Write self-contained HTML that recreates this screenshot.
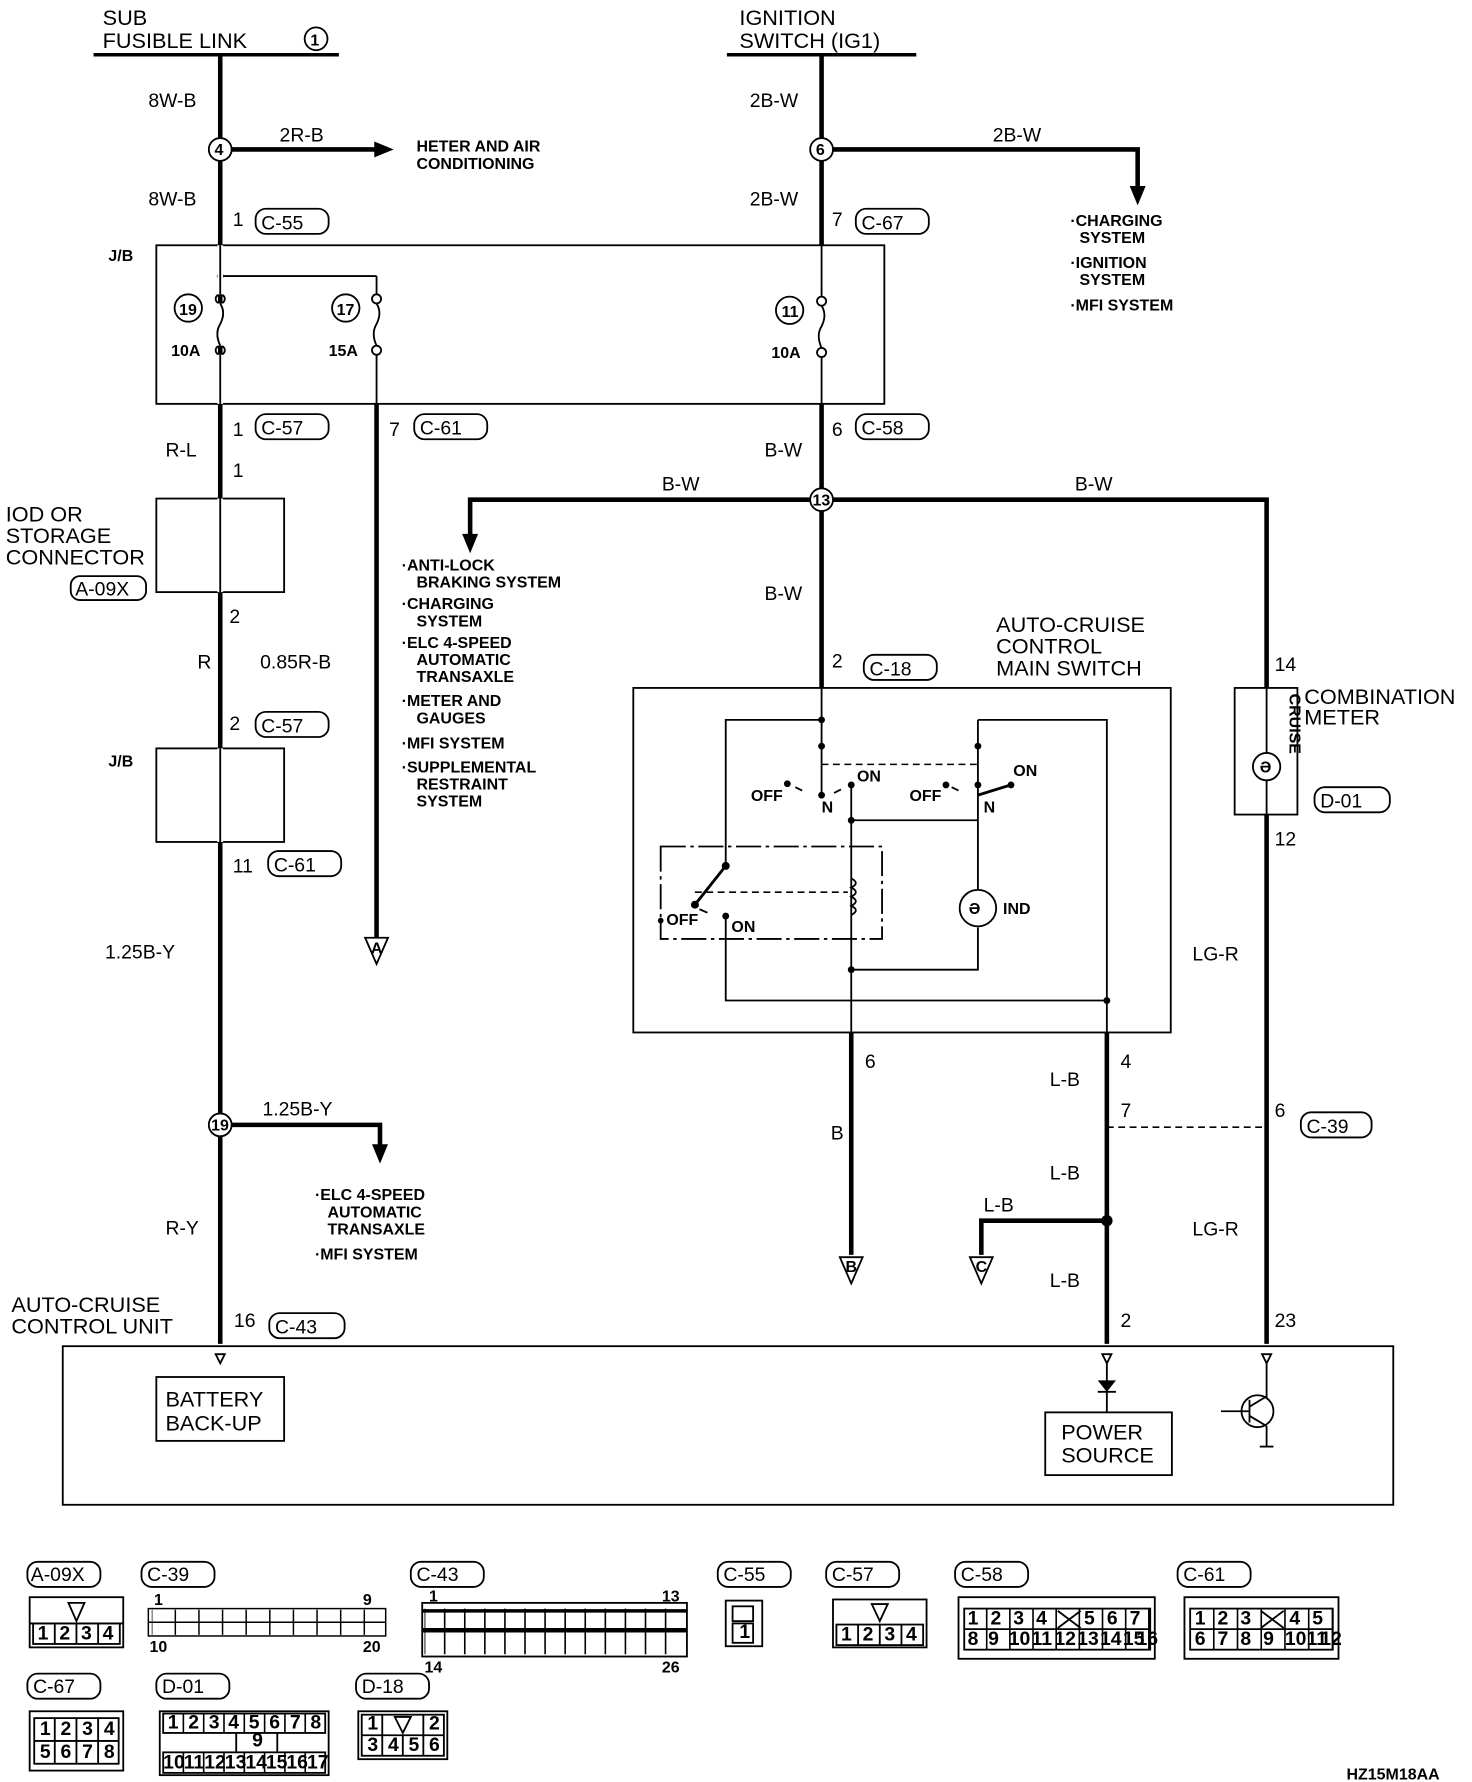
<!DOCTYPE html>
<html><head><meta charset="utf-8">
<style>
html,body{margin:0;padding:0;background:#fff;}
svg{display:block;}
text{font-family:"Liberation Sans Narrow","Liberation Sans",sans-serif;font-size:17px;fill:#000;}
.s{font-size:14px;font-weight:bold;}
.m{font-size:19px;}
.w{stroke:#000;stroke-width:4;fill:none;}
.l{stroke:#000;stroke-width:1.6;fill:none;}
.d{stroke:#000;stroke-width:1.4;fill:none;stroke-dasharray:6 4;}
.b{stroke:#000;stroke-width:1.6;fill:#fff;}
.c{font-size:11px;font-weight:bold;}
</style></head><body>
<svg width="1472" height="1782" viewBox="0 0 1290 1562" preserveAspectRatio="none" xmlns="http://www.w3.org/2000/svg">
<!-- top left -->
<text x="90" y="22" class="m">SUB</text>
<text x="90" y="42" class="m">FUSIBLE LINK</text>
<circle cx="277" cy="34" r="10" class="l"/><text x="272" y="40" class="s">1</text>
<line x1="82" y1="48" x2="297" y2="48" stroke="#000" stroke-width="3"/>
<line x1="193" y1="48" x2="193" y2="1178" class="w"/>
<text x="130" y="94">8W-B</text>
<circle cx="193" cy="131" r="10" class="b"/><text x="188" y="136" class="s">4</text>
<line x1="203" y1="131" x2="330" y2="131" class="w"/><polygon points="328,124 345,131 328,138"/>
<text x="245" y="124">2R-B</text>
<text x="365" y="133" class="s">HETER AND AIR</text><text x="365" y="148" class="s">CONDITIONING</text>
<text x="130" y="180">8W-B</text>
<text x="204" y="198">1</text><rect x="224" y="183" width="64" height="22" rx="9" class="l"/><text x="229" y="201">C-55</text>
<!-- J/B -->
<rect x="137" y="215" width="638" height="139" class="l"/>
<text x="95" y="229" class="s">J/B</text>
<line x1="193" y1="242" x2="330" y2="242" class="l"/><circle cx="193" cy="242" r="3"/>
<line x1="330" y1="242" x2="330" y2="258" class="l"/>
<g class="l">
<circle cx="193" cy="262" r="4"/><circle cx="193" cy="307" r="4"/><path d="M193 266 q5 8 0 18 q-5 8 0 19"/>
<circle cx="330" cy="262" r="4"/><circle cx="330" cy="307" r="4"/><path d="M330 266 q5 8 0 18 q-5 8 0 19"/>
<circle cx="720" cy="264" r="4"/><circle cx="720" cy="309" r="4"/><path d="M720 268 q5 8 0 18 q-5 8 0 19"/>
<circle cx="165" cy="270" r="12"/><circle cx="303" cy="270" r="12"/><circle cx="692" cy="272" r="12"/>
<line x1="720" y1="215" x2="720" y2="260"/><line x1="720" y1="313" x2="720" y2="354"/>
<line x1="330" y1="311" x2="330" y2="354"/>
</g>
<line x1="193" y1="215" x2="193" y2="258" stroke="#fff" stroke-width="5"/><line x1="193" y1="215" x2="193" y2="258" class="l"/>
<line x1="193" y1="311" x2="193" y2="354" stroke="#fff" stroke-width="5"/><line x1="193" y1="311" x2="193" y2="354" class="l"/>
<line x1="193" y1="266" x2="193" y2="303" stroke="#fff" stroke-width="5"/><path d="M193 266 q5 8 0 18 q-5 8 0 19" class="l"/>
<text x="157" y="276" class="s">19</text><text x="295" y="276" class="s">17</text><text x="685" y="278" class="s">11</text>
<text x="150" y="312" class="s">10A</text><text x="288" y="312" class="s">15A</text><text x="676" y="314" class="s">10A</text>
<text x="204" y="382">1</text><rect x="224" y="363" width="64" height="22" rx="9" class="l"/><text x="229" y="381">C-57</text>
<text x="341" y="382">7</text><rect x="363" y="363" width="64" height="22" rx="9" class="l"/><text x="368" y="381">C-61</text>
<line x1="330" y1="354" x2="330" y2="822" class="w"/>
<polygon points="320,822 340,822 330,845" class="l"/><text x="325" y="836" class="s">A</text>
<!-- ignition -->
<text x="648" y="22" class="m">IGNITION</text><text x="648" y="42" class="m">SWITCH (IG1)</text>
<line x1="637" y1="48" x2="803" y2="48" stroke="#000" stroke-width="3"/>
<line x1="720" y1="48" x2="720" y2="215" class="w"/>
<text x="657" y="94">2B-W</text>
<circle cx="720" cy="131" r="10" class="b"/><text x="715" y="136" class="s">6</text>
<path d="M730 131 H997 V165" class="w"/><polygon points="990,163 997,180 1004,163"/>
<text x="870" y="124">2B-W</text>
<text x="657" y="180">2B-W</text>
<text x="729" y="198">7</text><rect x="750" y="183" width="64" height="22" rx="9" class="l"/><text x="755" y="201">C-67</text>
<text x="938" y="198" class="s">·CHARGING</text><text x="946" y="213" class="s">SYSTEM</text>
<text x="938" y="235" class="s">·IGNITION</text><text x="946" y="250" class="s">SYSTEM</text>
<text x="938" y="272" class="s">·MFI SYSTEM</text>
<line x1="720" y1="354" x2="720" y2="603" class="w"/>
<text x="729" y="382">6</text><rect x="750" y="363" width="64" height="22" rx="9" class="l"/><text x="755" y="381">C-58</text>
<text x="670" y="400">B-W</text>
<path d="M412 470 V438 H1110 V603" class="w"/><polygon points="405,468 412,485 419,468"/>
<circle cx="720" cy="438" r="10" class="b"/><text x="712" y="443" class="s">13</text>
<text x="580" y="430">B-W</text><text x="942" y="430">B-W</text>
<text x="352" y="500" class="s">·ANTI-LOCK</text><text x="365" y="515" class="s">BRAKING SYSTEM</text>
<text x="352" y="534" class="s">·CHARGING</text><text x="365" y="549" class="s">SYSTEM</text>
<text x="352" y="568" class="s">·ELC 4-SPEED</text><text x="365" y="583" class="s">AUTOMATIC</text><text x="365" y="598" class="s">TRANSAXLE</text>
<text x="352" y="619" class="s">·METER AND</text><text x="365" y="634" class="s">GAUGES</text>
<text x="352" y="656" class="s">·MFI SYSTEM</text>
<text x="352" y="677" class="s">·SUPPLEMENTAL</text><text x="365" y="692" class="s">RESTRAINT</text><text x="365" y="707" class="s">SYSTEM</text>
<text x="670" y="526">B-W</text>
<text x="729" y="585">2</text><rect x="757" y="574" width="64" height="22" rx="9" class="l"/><text x="762" y="592">C-18</text>
<text x="873" y="554" class="m">AUTO-CRUISE</text><text x="873" y="573" class="m">CONTROL</text><text x="873" y="592" class="m">MAIN SWITCH</text>
<!-- left chain -->
<text x="145" y="400">R-L</text><text x="204" y="418">1</text>
<rect x="137" y="437" width="112" height="82" class="l"/>
<line x1="193" y1="437" x2="193" y2="519" stroke="#fff" stroke-width="5"/><line x1="193" y1="437" x2="193" y2="519" class="l"/>
<text x="5" y="457" class="m">IOD OR</text><text x="5" y="476" class="m">STORAGE</text><text x="5" y="495" class="m">CONNECTOR</text>
<rect x="62" y="505" width="66" height="21" rx="8" class="l"/><text x="66" y="522">A-09X</text>
<text x="201" y="546">2</text>
<text x="173" y="586">R</text><text x="228" y="586">0.85R-B</text>
<text x="201" y="640">2</text><rect x="224" y="624" width="64" height="22" rx="9" class="l"/><text x="229" y="642">C-57</text>
<rect x="137" y="656" width="112" height="82" class="l"/>
<line x1="193" y1="656" x2="193" y2="738" stroke="#fff" stroke-width="5"/><line x1="193" y1="656" x2="193" y2="738" class="l"/>
<text x="95" y="672" class="s">J/B</text>
<text x="204" y="765">11</text><rect x="235" y="746" width="64" height="22" rx="9" class="l"/><text x="240" y="764">C-61</text>
<text x="92" y="840">1.25B-Y</text>
<circle cx="193" cy="986" r="10" class="b"/><text x="185" y="991" class="s">19</text>
<path d="M203 986 H333 V1005" class="w"/><polygon points="326,1003 333,1020 340,1003"/>
<text x="230" y="978">1.25B-Y</text>
<text x="276" y="1052" class="s">·ELC 4-SPEED</text><text x="287" y="1067" class="s">AUTOMATIC</text><text x="287" y="1082" class="s">TRANSAXLE</text>
<text x="276" y="1104" class="s">·MFI SYSTEM</text>
<text x="145" y="1082">R-Y</text>
<text x="10" y="1150" class="m">AUTO-CRUISE</text><text x="10" y="1169" class="m">CONTROL UNIT</text>
<text x="205" y="1163">16</text><rect x="236" y="1151" width="66" height="22" rx="9" class="l"/><text x="241" y="1169">C-43</text>
<!-- switch box -->
<rect x="555" y="603" width="471" height="302" class="l"/>
<g class="l">
<line x1="720" y1="603" x2="720" y2="697"/>
<path d="M720 631 H636 V759"/>
<line x1="636" y1="759" x2="609" y2="793" stroke-width="2.5"/>
<path d="M636 803 V877 H970"/>
<line x1="720" y1="670" x2="857" y2="670" class="d"/>
<line x1="609" y1="782" x2="743" y2="782" class="d"/>
<path d="M579 742 H773 V823 H579 Z" stroke-dasharray="22 4 3 4"/>
<line x1="746" y1="688" x2="746" y2="905"/>
<path d="M746 719 H857"/><path d="M746 850 H857 V813"/>
<path d="M857 780 V697"/>
<path d="M857 631 H970 V905"/>
<line x1="857" y1="631" x2="857" y2="697"/>
<line x1="857" y1="697" x2="886" y2="688" stroke-width="2.5"/>
<circle cx="857" cy="796" r="16"/>
<path d="M746 770 q8 4 0 8 q8 4 0 8 q8 4 0 8 q8 4 0 8"/>
<line x1="697" y1="690" x2="703" y2="693"/><line x1="731" y1="695" x2="737" y2="692"/>
<line x1="834" y1="690" x2="840" y2="693"/><line x1="613" y1="797" x2="620" y2="800"/>
</g>
<g>
<circle cx="720" cy="631" r="3"/><circle cx="720" cy="654" r="3"/><circle cx="720" cy="697" r="3"/>
<circle cx="636" cy="759" r="3.5"/><circle cx="609" cy="793" r="3.5"/><circle cx="579" cy="807" r="2.5"/>
<circle cx="636" cy="803" r="3"/><circle cx="970" cy="877" r="3"/><circle cx="746" cy="688" r="3"/>
<circle cx="746" cy="719" r="3"/><circle cx="746" cy="850" r="3"/><circle cx="857" cy="654" r="3"/>
<circle cx="857" cy="688" r="3"/><circle cx="886" cy="688" r="3"/><circle cx="829" cy="688" r="3"/><circle cx="690" cy="687" r="3"/>
</g>
<text x="584" y="811" class="s">OFF</text><text x="641" y="817" class="s">ON</text>
<text x="658" y="702" class="s">OFF</text><text x="751" y="685" class="s">ON</text><text x="720" y="712" class="s">N</text>
<text x="797" y="702" class="s">OFF</text><text x="888" y="680" class="s">ON</text><text x="862" y="712" class="s">N</text>
<text x="879" y="801" class="s">IND</text>
<text x="849" y="801" class="s">Ə</text>
<!-- below switch -->
<line x1="746" y1="905" x2="746" y2="1100" class="w"/>
<line x1="970" y1="905" x2="970" y2="1178" class="w"/>
<text x="758" y="936">6</text><text x="728" y="999">B</text>
<polygon points="736,1102 756,1102 746,1125" class="l"/><text x="741" y="1115" class="s">B</text>
<text x="982" y="936">4</text><text x="920" y="952">L-B</text>
<text x="982" y="979">7</text>
<line x1="970" y1="988" x2="1110" y2="988" class="d"/>
<text x="920" y="1034">L-B</text>
<circle cx="970" cy="1070" r="5"/>
<path d="M970 1070 H860 V1100" class="w"/>
<text x="862" y="1062">L-B</text>
<polygon points="850,1102 870,1102 860,1125" class="l"/><text x="855" y="1115" class="s">C</text>
<text x="920" y="1128">L-B</text>
<text x="982" y="1163">2</text>
<!-- right -->
<line x1="1110" y1="603" x2="1110" y2="1178" class="w"/>
<rect x="1082" y="603" width="55" height="111" class="b"/>
<line x1="1110" y1="603" x2="1110" y2="714" class="l"/>
<circle cx="1110" cy="672" r="12" class="b"/><text x="1104" y="677" class="s">Ə</text>
<text x="1130" y="608" class="s" transform="rotate(90 1130 608)">CRUISE</text>
<text x="1117" y="588">14</text>
<text x="1143" y="617" class="m">COMBINATION</text><text x="1143" y="635" class="m">METER</text>
<rect x="1152" y="690" width="66" height="22" rx="9" class="l"/><text x="1157" y="708">D-01</text>
<text x="1117" y="741">12</text>
<text x="1045" y="842">LG-R</text>
<text x="1117" y="979">6</text><rect x="1140" y="975" width="62" height="22" rx="9" class="l"/><text x="1145" y="993">C-39</text>
<text x="1045" y="1083">LG-R</text>
<text x="1117" y="1163">23</text>
<!-- control unit -->
<rect x="55" y="1180" width="1166" height="139" class="l"/>
<polygon points="189,1187 197,1187 193,1195" class="l"/>
<polygon points="966,1187 974,1187 970,1195" class="l"/>
<polygon points="1106,1187 1114,1187 1110,1195" class="l"/>
<rect x="137" y="1207" width="112" height="56" class="l"/>
<text x="145" y="1233" class="m">BATTERY</text><text x="145" y="1254" class="m">BACK-UP</text>
<line x1="970" y1="1195" x2="970" y2="1238" class="l"/>
<polygon points="962,1210 978,1210 970,1220"/><line x1="962" y1="1220" x2="978" y2="1220" class="l"/>
<rect x="916" y="1238" width="111" height="55" class="l"/>
<text x="930" y="1262" class="m">POWER</text><text x="930" y="1282" class="m">SOURCE</text>
<line x1="1110" y1="1195" x2="1110" y2="1225" class="l"/>
<circle cx="1102" cy="1237" r="14" class="l"/>
<line x1="1095" y1="1227" x2="1095" y2="1247" class="l" stroke-width="2.5"/>
<line x1="1095" y1="1233" x2="1110" y2="1224" class="l"/><line x1="1095" y1="1241" x2="1110" y2="1250" class="l"/>
<line x1="1070" y1="1237" x2="1095" y2="1237" class="l"/><line x1="1110" y1="1250" x2="1110" y2="1268" class="l"/>
<line x1="1104" y1="1268" x2="1116" y2="1268" class="l" stroke-width="3"/>
<!-- connectors -->
<g class="l">
<rect x="24" y="1369" width="64" height="22" rx="9"/><rect x="124" y="1369" width="64" height="22" rx="9"/>
<rect x="360" y="1369" width="64" height="22" rx="9"/><rect x="629" y="1369" width="64" height="22" rx="9"/>
<rect x="724" y="1369" width="64" height="22" rx="9"/><rect x="837" y="1369" width="64" height="22" rx="9"/>
<rect x="1032" y="1369" width="64" height="22" rx="9"/>
<rect x="24" y="1467" width="64" height="22" rx="9"/><rect x="137" y="1467" width="64" height="22" rx="9"/>
<rect x="312" y="1467" width="64" height="22" rx="9"/>
</g>
<text x="27" y="1386">A-09X</text><text x="129" y="1386">C-39</text><text x="365" y="1386">C-43</text>
<text x="634" y="1386">C-55</text><text x="729" y="1386">C-57</text><text x="842" y="1386">C-58</text><text x="1037" y="1386">C-61</text>
<text x="29" y="1484">C-67</text><text x="142" y="1484">D-01</text><text x="317" y="1484">D-18</text>
<g class="l" stroke-width="2">
<!-- A-09X -->
<rect x="26" y="1400" width="82" height="44"/><line x1="26" y1="1423" x2="108" y2="1423"/>
<rect x="29" y="1423" width="76" height="18"/>
<line x1="48" y1="1423" x2="48" y2="1441"/><line x1="67" y1="1423" x2="67" y2="1441"/><line x1="86" y1="1423" x2="86" y2="1441"/>
<path d="M60 1405 H74 L67 1421 Z"/>
<!-- C-39 -->
<rect x="130" y="1410" width="208" height="24" stroke-width="1.3"/>
<line x1="133" y1="1422" x2="335" y2="1422" stroke-width="22" stroke-dasharray="1.3 19.4" stroke-dashoffset="-20"/>
<line x1="130" y1="1422" x2="338" y2="1422" stroke-width="1.3"/>
<!-- C-43 -->
<rect x="370" y="1405" width="232" height="47"/>
<line x1="370" y1="1429" x2="602" y2="1429" stroke-width="4"/>
<line x1="370" y1="1412" x2="602" y2="1412" stroke-width="3"/>
<line x1="372" y1="1430" x2="600" y2="1430" stroke-width="40" stroke-dasharray="1.4 16.2" stroke-dashoffset="-17"/>
<!-- C-55 -->
<rect x="636" y="1403" width="32" height="40"/><rect x="642" y="1408" width="18" height="13"/><rect x="642" y="1423" width="18" height="17"/>
<!-- C-57 -->
<rect x="730" y="1402" width="82" height="42"/><rect x="733" y="1424" width="76" height="18"/>
<line x1="752" y1="1424" x2="752" y2="1442"/><line x1="771" y1="1424" x2="771" y2="1442"/><line x1="790" y1="1424" x2="790" y2="1442"/>
<path d="M764 1406 H778 L771 1421 Z"/>
<!-- C-58 -->
<rect x="840" y="1400" width="172" height="54"/>
<line x1="845" y1="1428" x2="1008" y2="1428" stroke-width="36" stroke-dasharray="1.4 18.9" stroke-dashoffset="-19"/>
<rect x="845" y="1410" width="163" height="36"/><line x1="845" y1="1428" x2="1008" y2="1428"/>
<path d="M927 1412 L947 1427 M947 1412 L927 1427"/>
<!-- C-61 -->
<rect x="1038" y="1400" width="135" height="54"/>
<line x1="1043" y1="1428" x2="1168" y2="1428" stroke-width="36" stroke-dasharray="1.4 19.4" stroke-dashoffset="-20"/>
<rect x="1043" y="1410" width="125" height="36"/><line x1="1043" y1="1428" x2="1168" y2="1428"/>
<path d="M1105 1412 L1125 1427 M1125 1412 L1105 1427"/>
<!-- C-67 -->
<rect x="26" y="1500" width="82" height="52"/><rect x="30" y="1506" width="74" height="40"/><line x1="30" y1="1526" x2="104" y2="1526"/>
<line x1="48" y1="1506" x2="48" y2="1546"/><line x1="67" y1="1506" x2="67" y2="1546"/><line x1="86" y1="1506" x2="86" y2="1546"/>
<!-- D-01 -->
<rect x="140" y="1500" width="148" height="56"/>
<rect x="143" y="1502" width="142" height="17"/><rect x="143" y="1536" width="142" height="18"/>
<line x1="143" y1="1510" x2="285" y2="1510" stroke-width="17" stroke-dasharray="1.4 16.4" stroke-dashoffset="-17"/>
<line x1="143" y1="1545" x2="285" y2="1545" stroke-width="18" stroke-dasharray="1.4 16.4" stroke-dashoffset="-17"/>
<line x1="207" y1="1519" x2="207" y2="1536"/><line x1="243" y1="1519" x2="243" y2="1536"/>
<!-- D-18 -->
<rect x="314" y="1500" width="78" height="42"/><line x1="317" y1="1521" x2="389" y2="1521"/>
<rect x="317" y="1503" width="72" height="36"/>
<line x1="335" y1="1503" x2="335" y2="1539"/><line x1="371" y1="1503" x2="371" y2="1539"/><line x1="353" y1="1521" x2="353" y2="1539"/>
<path d="M346 1505 H360 L353 1519 Z"/>
</g>
<g class="c">
<text x="33" y="1437">1</text><text x="52" y="1437">2</text><text x="71" y="1437">3</text><text x="90" y="1437">4</text>
<text x="135" y="1407" class="s">1</text><text x="318" y="1407" class="s">9</text><text x="131" y="1448" class="s">10</text><text x="318" y="1448" class="s">20</text>
<text x="376" y="1404" class="s">1</text><text x="580" y="1404" class="s">13</text><text x="372" y="1466" class="s">14</text><text x="580" y="1466" class="s">26</text>
<text x="648" y="1436">1</text>
<text x="737" y="1438">1</text><text x="756" y="1438">2</text><text x="775" y="1438">3</text><text x="794" y="1438">4</text>
<text x="848" y="1424">1</text><text x="868" y="1424">2</text><text x="888" y="1424">3</text><text x="908" y="1424">4</text>
<text x="950" y="1424">5</text><text x="970" y="1424">6</text><text x="990" y="1424">7</text>
<text x="848" y="1442">8</text><text x="866" y="1442">9</text><text x="884" y="1442">10</text><text x="904" y="1442">11</text><text x="924" y="1442">12</text><text x="944" y="1442">13</text><text x="964" y="1442">14</text><text x="984" y="1442">15</text><text x="996" y="1442" font-size="9">16</text>
<text x="1047" y="1424">1</text><text x="1067" y="1424">2</text><text x="1087" y="1424">3</text><text x="1130" y="1424">4</text><text x="1150" y="1424">5</text>
<text x="1047" y="1442">6</text><text x="1067" y="1442">7</text><text x="1087" y="1442">8</text><text x="1107" y="1442">9</text><text x="1126" y="1442">10</text><text x="1145" y="1442">11</text><text x="1157" y="1442" font-size="9">12</text>
<text x="35" y="1521">1</text><text x="53" y="1521">2</text><text x="72" y="1521">3</text><text x="91" y="1521">4</text>
<text x="35" y="1541">5</text><text x="53" y="1541">6</text><text x="72" y="1541">7</text><text x="91" y="1541">8</text>
<text x="147" y="1515">1</text><text x="165" y="1515">2</text><text x="183" y="1515">3</text><text x="200" y="1515">4</text><text x="218" y="1515">5</text><text x="236" y="1515">6</text><text x="254" y="1515">7</text><text x="272" y="1515">8</text>
<text x="221" y="1531">9</text>
<text x="143" y="1550" font-size="9">10</text><text x="161" y="1550" font-size="9">11</text><text x="179" y="1550" font-size="9">12</text><text x="197" y="1550" font-size="9">13</text><text x="215" y="1550" font-size="9">14</text><text x="233" y="1550" font-size="9">15</text><text x="251" y="1550" font-size="9">16</text><text x="269" y="1550" font-size="9">17</text>
<text x="322" y="1516">1</text><text x="376" y="1516">2</text><text x="322" y="1535">3</text><text x="340" y="1535">4</text><text x="358" y="1535">5</text><text x="376" y="1535">6</text>
</g>
<text x="1180" y="1560" class="s">HZ15M18AA</text>
</svg>
</body></html>
